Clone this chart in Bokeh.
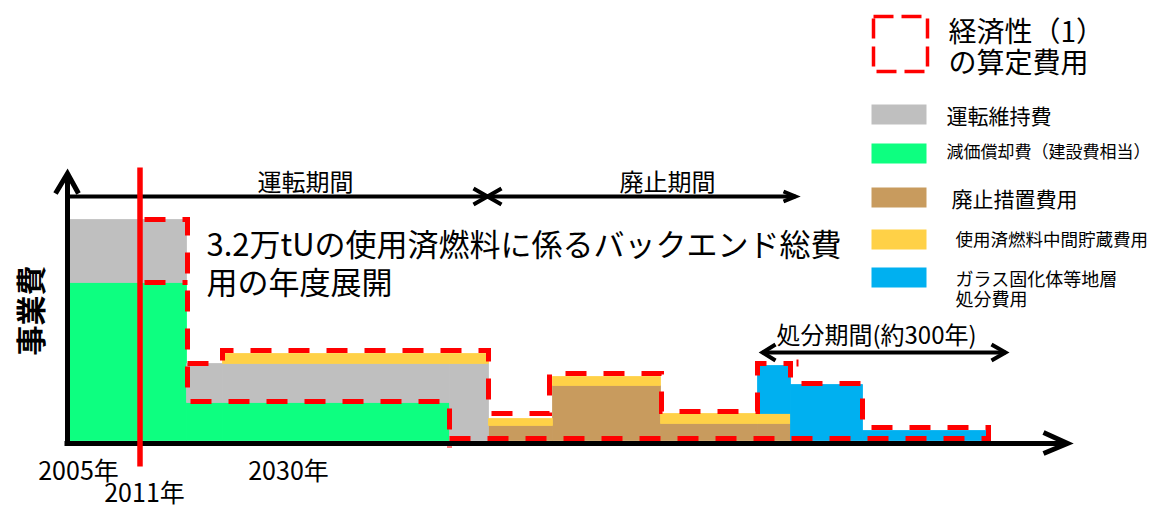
from math import pi
from bokeh.plotting import figure
from bokeh.models import Range1d, ColumnDataSource
from bokeh.core.properties import value
from bokeh.embed import file_html
from bokeh.resources import INLINE

FONT = value("Noto Sans CJK JP")

# ---- data: schematic stacked cost profile (segments along the time axis) ----
seg_x0 = [68, 186, 222, 449, 488, 552, 660, 757, 790, 862]
seg_x1 = [186, 222, 449, 488, 552, 660, 757, 790, 862, 987]
green = [158, 38, 38, 0, 0, 0, 0, 0, 0, 0]      # 減価償却費
brown = [0, 0, 0, 0, 15, 55, 17, 17, 0, 0]      # 廃止措置費用
gray = [63, 39, 39, 77, 0, 0, 0, 0, 0, 0]       # 運転維持費
yellow = [0, 0, 10, 10, 7, 9, 10, 10, 0, 0]     # 中間貯蔵費用
blue = [0, 0, 0, 0, 0, 0, 0, 48, 56, 10]        # 地層処分費用

stack_names = ["green", "brown", "gray", "yellow", "blue"]
stack_colors = ["#0DFF80", "#C89B5E", "#BFBFBF", "#FFD147", "#00B0F0"]

# red dashed outline (経済性(1)の算定費用)
outline_xs = [
    [144, 187],
    [144, 187, 187, 449, 449],
    [187, 222, 222, 488, 488, 549, 549, 661, 661, 757, 757, 790, 790, 862, 862, 988, 988],
    [449, 988],
]
outline_ys = [
    [158, 158],
    [221, 221, 39, 39, -7],
    [77, 77, 90, 90, 27, 27, 67, 67, 29, 29, 77, 77, 57, 57, 13, 13, -7],
    [2, 2],
]

year_labels = ["2005年", "2011年", "2030年"]
year_x = [78, 144, 288]
year_y = [-28, -50, -28]

legend_labels = ["運転維持費", "減価償却費（建設費相当）", "廃止措置費用",
                 "使用済燃料中間貯蔵費用", "ガラス固化体等地層", "処分費用"]
legend_colors = ["#BFBFBF", "#0DFF80", "#C89B5E", "#FFD147", "#00B0F0"]

# ---- figure ----
p = figure(width=1152, height=511, output_backend="svg", toolbar_location=None,
           x_range=Range1d(0, 1152), y_range=Range1d(-71, 440),
           min_border=0, outline_line_color=None)
p.axis.visible = False
p.grid.visible = False
p.background_fill_color = "white"

src = ColumnDataSource(dict(
    x0=seg_x0, x1=seg_x1, green=green, brown=brown, gray=gray,
    yellow=yellow, blue=blue,
))
# cumulative stacking (only non-empty pieces drawn, stroked to hide seams)
bottoms = [0] * len(seg_x0)
for name, col in zip(stack_names, stack_colors):
    vals = src.data[name]
    tops = [b + v for b, v in zip(bottoms, vals)]
    idx = [i for i, v in enumerate(vals) if v > 0]
    p.quad(left=[seg_x0[i] for i in idx], right=[seg_x1[i] for i in idx],
           bottom=[bottoms[i] for i in idx], top=[tops[i] for i in idx],
           fill_color=col, line_color=col, line_width=0.8)
    bottoms = tops

# red dashed outline
p.multi_line(xs=outline_xs, ys=outline_ys, line_color="#FF0000", line_width=5,
             line_dash="21 17", line_join="miter")
p.segment(x0=[797], y0=[74], x1=[797], y1=[81], line_color="#FF0000", line_width=2)

# axes (black arrows)
p.line([67, 67], [-5, 267], line_color="black", line_width=5)
p.line([55, 67, 78], [247, 267, 247], line_color="black", line_width=5, line_join="miter")
p.line([64, 1066], [-3, -3], line_color="black", line_width=5)
p.line([1043, 1067, 1043], [8, -3, -13], line_color="black", line_width=5, line_join="miter")

# period arrows
p.line([67, 795], [244, 244], line_color="black", line_width=4)
p.line([783, 795, 783], [249, 244, 239], line_color="black", line_width=4, line_join="miter")
p.line([473, 487, 473], [252, 244, 236], line_color="black", line_width=4)
p.line([501, 487, 501], [252, 244, 236], line_color="black", line_width=4)
p.line([762, 1005], [88, 88], line_color="black", line_width=4)
p.line([775, 762, 775], [96, 88, 80], line_color="black", line_width=4, line_join="miter")
p.line([991, 1005, 991], [96, 88, 80], line_color="black", line_width=4, line_join="miter")

# red 2011 line
p.line([139.5, 139.5], [-26, 273], line_color="#FF0000", line_width=5.5)

# texts
def txt(x, y, s, size, align="left", bold=False, angle=0.0):
    p.text(x=[x], y=[y], text=[s], text_font=FONT, text_font_size=f"{size}px",
           text_align=align, text_baseline="middle", text_color="black",
           text_font_style="bold" if bold else "normal", angle=angle)

txt(305, 260, "運転期間", 24, "center")
txt(667, 260, "廃止期間", 24, "center")
txt(876, 107, "処分期間(約300年)", 24, "center")
txt(206, 198, "3.2万tUの使用済燃料に係るバックエンド総費", 31)
txt(206, 160, "用の年度展開", 31)
txt(28, 130, "事業費", 30, "center", bold=True, angle=pi / 2)

p.text(x=year_x, y=year_y, text=year_labels, text_font=FONT, text_font_size="25px",
       text_align="center", text_baseline="middle", text_color="black")

# legend
p.quad(left=[873], right=[927], bottom=[369], top=[424], fill_color=None,
       line_color="#FF0000", line_width=3.5, line_dash="20 8")
txt(948, 411, "経済性（1）", 28)
txt(948, 380, "の算定費用", 28)

sw_top = [336, 297, 253, 211, 173]
sw_bot = [316, 277, 233, 191, 153]
p.quad(left=[871] * 5, right=[926] * 5, bottom=sw_bot, top=sw_top,
       fill_color=legend_colors, line_color=None)
txt(946, 326, legend_labels[0], 21)
txt(946, 290, legend_labels[1], 17)
txt(951, 243, legend_labels[2], 21)
txt(955, 202, legend_labels[3], 17.5)
txt(955, 163, legend_labels[4], 18)
txt(955, 143, legend_labels[5], 18)

open("out.html", "w").write(file_html(p, INLINE))
